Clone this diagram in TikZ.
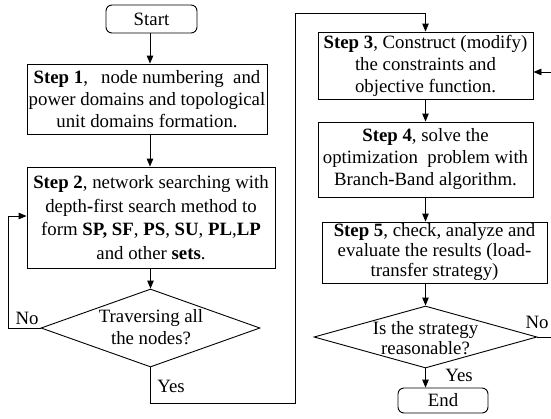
\documentclass[tikz,border=0pt]{standalone}
\usepackage{fontspec}
\setmainfont{Liberation Serif}
\usetikzlibrary{arrows.meta,shapes.geometric}
\begin{document}
\begin{tikzpicture}[x=1pt,y=-1pt,
  every node/.style={font=\fontsize{18.8}{22}\selectfont},
  box/.style={draw,line width=0.9pt,inner sep=0pt,align=center},
  term/.style={box,rounded corners=6pt},
  dia/.style={draw,line width=0.9pt,diamond,inner sep=0pt},
  lbl/.style={inner sep=0pt},
  arr/.style={line width=0.9pt,-{Triangle[length=8pt,width=6.5pt]}},
  ln/.style={line width=0.9pt}]
\useasboundingbox (0,0) rectangle (551,418);
% left column
\node[term,minimum width=91pt,minimum height=28pt] (start) at (151.5,19) {Start};
\node[box,minimum width=240pt,minimum height=70pt] (s1) at (147,99)
  {\textbf{Step 1},\hspace{0.7em}node numbering\ \ and\\power domains and topological\\unit domains formation.};
\node[box,minimum width=248pt,minimum height=101pt,font=\fontsize{18.8}{23.5}\selectfont] (s2) at (151,217.5)
  {\textbf{Step 2}, network searching with\\depth\textbf{-}first search method to\\form \textbf{SP, SF}, \textbf{PS}, \textbf{SU}, \textbf{PL},\textbf{LP}\\and other \textbf{sets}.};
\node[dia,minimum width=219pt,minimum height=78pt] (d1) at (150.5,328) {};
\node[lbl,align=center] (d1t) at (151,327) {Traversing all\\the nodes?};
% right column
\node[box,minimum width=215pt,minimum height=67pt] (s3) at (425.5,65.5)
  {\textbf{Step 3}, Construct (modify)\\the constraints and\\objective function.};
\node[box,minimum width=215pt,minimum height=75pt] (s4) at (425.5,159.5)
  {\textbf{Step 4}, solve the\\optimization\ \ problem with\\Branch-Band algorithm.};
\node[box,minimum width=225pt,minimum height=61pt,font=\fontsize{18.8}{20}\selectfont] (s5) at (434.5,252.5)
  {\textbf{Step 5}, check, analyze and\\evaluate the results (load-\\transfer strategy)};
\node[dia,minimum width=223pt,minimum height=62pt] (d2) at (425.5,337) {};
\node[lbl,align=center,font=\fontsize{18.8}{20}\selectfont] (d2t) at (425.5,338) {Is the strategy\\reasonable?};
\node[term,minimum width=90pt,minimum height=25pt] (end) at (443,400.5) {End};
% labels
\node[lbl] (no1) at (27,318) {No};
\node[lbl] (yes1) at (171,386) {Yes};
\node[lbl] (no2) at (537,322) {No};
\node[lbl] (yes2) at (459,375) {Yes};
% helper coordinates
\coordinate (loopL) at (8,216);
\coordinate (r1) at (295,403);
\coordinate (r2) at (295,13);
\coordinate (re) at (551,337);
\coordinate (rin) at (551,72);
% connectors
\draw[arr] (start.south -| 150,0) -- (s1.north -| 150,0);
\draw[arr] (s1.south -| 150,0) -- (s2.north -| 150,0);
\draw[arr] (s2.south -| d1.north) -- (d1.north);
\draw[arr] (d1.west) -| (loopL) -- (loopL -| s2.west);
\draw[arr] (d1.south) |- (r1) -- (r2) -| (s3.north);
\draw[arr] (s3.south) -- (s4.north);
\draw[arr] (s4.south) -- (s4.south |- s5.north);
\draw[arr] (d2.north |- s5.south) -- (d2.north);
\draw[arr] (d2.south) -- (d2.south |- end.north);
\draw[ln] (d2.east) -- (re);
\draw[arr] (rin) -- (rin -| s3.east);
\end{tikzpicture}
\end{document}
